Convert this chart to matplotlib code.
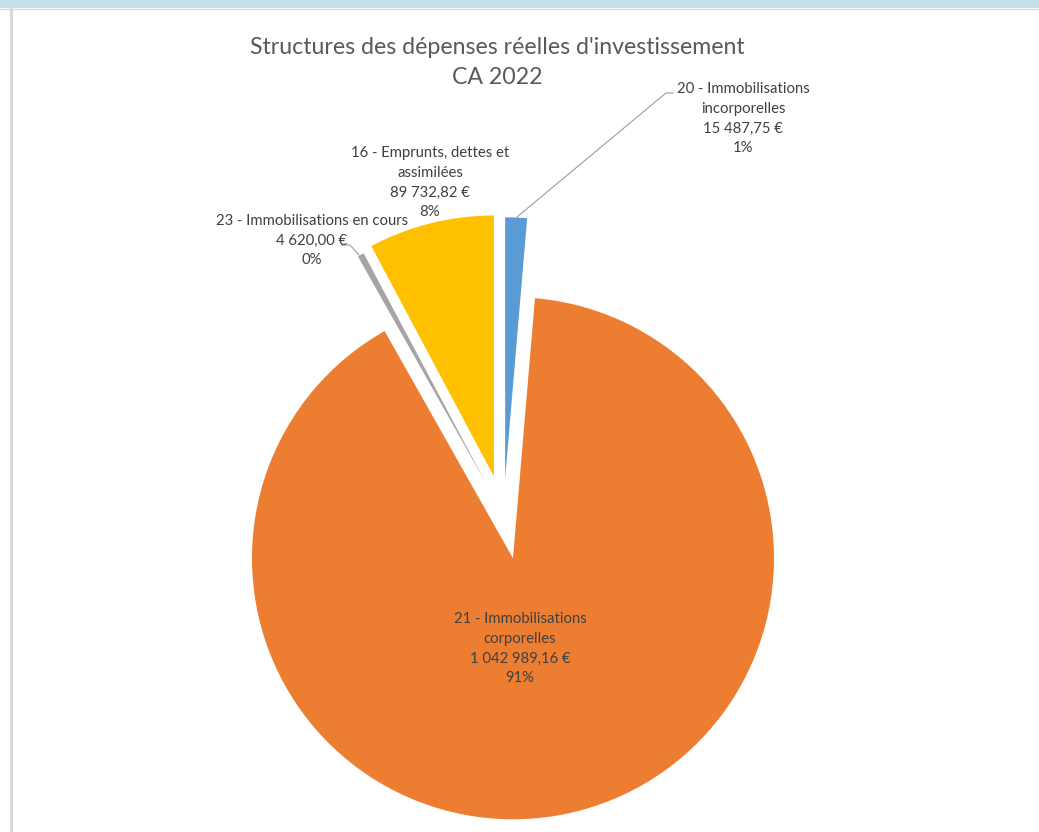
import matplotlib
matplotlib.use("Agg")
from matplotlib import pyplot as plt
from matplotlib.patches import Rectangle
import numpy as np

plt.rcParams['font.family'] = ['Lato', 'DejaVu Sans']

# Données (CA 2022)
categories = ['20 - Immobilisations\nincorporelles',
              '21 - Immobilisations\ncorporelles',
              '23 - Immobilisations en cours',
              '16 - Emprunts, dettes et\nassimilées']
montants = [15487.75, 1042989.16, 4620.00, 89732.82]
pourcents = [1, 91, 0, 8]   # tels qu'affichés sur le graphique
couleurs = ['#5B9BD5', '#ED7D31', '#A5A5A5', '#FFC000']

titre = "Structures des dépenses réelles d'investissement\nCA 2022"


def euros(v):
    s = '{:,.2f}'.format(v)
    return s.replace(',', ' ').replace('.', ',') + ' €'


W, H = 1039, 832
fig = plt.figure(figsize=(W / 100, H / 100), dpi=100)
ax = fig.add_axes([0, 0, 1, 1])
ax.set_xlim(0, W)
ax.set_ylim(0, H)
ax.axis('off')

# bandeau du haut et bordure gauche
ax.add_patch(Rectangle((0, H - 8), W, 8, color='#C5E0E6', lw=0))
ax.plot([0, W], [H - 9, H - 9], color='#DADADA', lw=1)
ax.plot([10.5, 10.5], [0, H - 9], color='#D6D6D6', lw=2)

# camembert (coordonnées en pixels, y vers le haut)
centre = (503.6, H - 515.3)
rayon = 261
explosion = [37, 44, 36, 40]
wedges, _ = ax.pie(montants, colors=couleurs, startangle=90, counterclock=False,
                   radius=rayon, center=centre, explode=explosion,
                   wedgeprops=dict(linewidth=0))
ax.set_xlim(0, W)
ax.set_ylim(0, H)
ax.set_aspect('equal')

textes = ['{}\n{}\n{}%'.format(c, euros(m), p)
          for c, m, p in zip(categories, montants, pourcents)]

# position des étiquettes (x, y haut de la première ligne)
pos_etiq = [(743, 82), (520, 612), (312, 214), (430, 146)]
for t, (x, y) in zip(textes, pos_etiq):
    ax.text(x, H - y, t, ha='center', va='top', fontsize=10.7,
            color='#404040', linespacing=1.52)

# lignes de rappel
ax.plot([673, 666, 517], [H - 93, H - 93, H - 217], color='#A6A6A6', lw=0.9)
ax.plot([341, 350, 359], [H - 245, H - 245, H - 255], color='#A6A6A6', lw=0.9)

ax.text(497, H - 37, titre, ha='center', va='top', fontsize=16.7,
        color='#595959', linespacing=1.5)

fig.savefig('out.png', dpi=100, facecolor='white')
